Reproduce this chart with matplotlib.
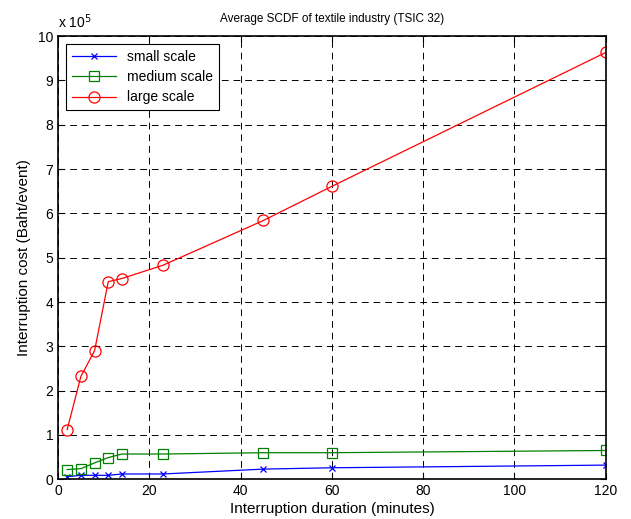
import numpy as np
import matplotlib.pyplot as plt

plt.rcParams['font.family'] = ['Liberation Sans', 'DejaVu Sans']

# interruption duration (minutes)
duration = [2, 5, 8, 11, 14, 23, 45, 60, 120]
# interruption cost in units of 1e5 Baht/event
small_scale = [0.06, 0.09, 0.09, 0.09, 0.12, 0.12, 0.23, 0.26, 0.32]
medium_scale = [0.22, 0.24, 0.37, 0.49, 0.57, 0.57, 0.60, 0.60, 0.65]
large_scale = [1.12, 2.32, 2.90, 4.46, 4.53, 4.83, 5.84, 6.61, 9.63]

fig = plt.figure(figsize=(6.31, 5.19), dpi=100)
ax = fig.add_axes([0.092, 0.0765, 0.868, 0.854])

ax.plot(duration, small_scale, '-x', color='blue', lw=0.9, ms=4, mew=0.9, label='small scale')
ax.plot(duration, medium_scale, '-s', color='green', lw=0.9, ms=7, mfc='none', mew=0.9, label='medium scale')
ax.plot(duration, large_scale, '-o', color='red', lw=0.9, ms=8, mfc='none', mew=0.9, label='large scale')

ax.set_xlim(0, 120)
ax.set_ylim(0, 10)
ax.set_xticks(np.arange(0, 121, 20))
ax.set_yticks(np.arange(0, 11, 1))
ax.tick_params(direction='in', top=True, right=True, labelsize=10, length=4)
ax.grid(True, color='black', linestyle=(0, (7, 5)), linewidth=0.7)
for s in ax.spines.values():
    s.set_linewidth(1.2)

ax.set_title('Average SCDF of textile industry (TSIC 32)', fontsize=8.5, pad=10)
ax.set_xlabel('Interruption duration (minutes)', fontsize=11, labelpad=3)
ax.set_ylabel('Interruption cost (Baht/event)', fontsize=11, labelpad=5)
ax.text(0, 1.012, r'x 10$^5$', transform=ax.transAxes, fontsize=10, ha='left', va='bottom')

leg = ax.legend(loc='upper left', fontsize=10, fancybox=False, framealpha=1,
                edgecolor='black', borderaxespad=0.6, handlelength=3.2, labelspacing=0.45)
leg.get_frame().set_linewidth(0.8)

fig.savefig('out.png', dpi=100)
